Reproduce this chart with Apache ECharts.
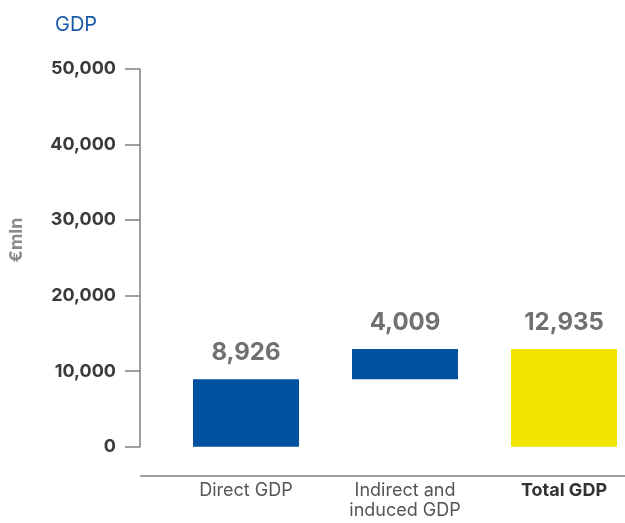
<!DOCTYPE html>
<html>
<head>
<meta charset="utf-8">
<script src="https://cdn.jsdelivr.net/npm/echarts@6/dist/echarts.min.js"></script>
<style>html,body{margin:0;padding:0;background:#fff}#c{width:625px;height:523px}</style>
</head>
<body>
<div id="c"></div>
<script>
var categories = ['Direct GDP', 'Indirect and\ninduced GDP', 'Total GDP'];
var baseValues = [0, 8926, 0];
var barValues = [8926, 4009, 12935];
var barColors = ['#0052A0', '#0052A0', '#F2E500'];
var yTicks = [0, 10000, 20000, 30000, 40000, 50000];

var FONT = 'Inter, "Liberation Sans", Arial, sans-serif';
function fmt(v) { return String(v).replace(/\B(?=(\d{3})+(?!\d))/g, ','); }

var chart = echarts.init(document.getElementById('c'), null, {renderer: 'canvas'});
chart.setOption({
  animation: false,
  backgroundColor: '#fff',
  title: {
    text: 'GDP', left: 50, top: 10,
    textStyle: {color: '#1a5aa6', fontSize: 20, fontWeight: 'normal', fontFamily: FONT}
  },
  grid: {left: 166.5, width: 477, top: 69, height: 377.7, containLabel: false, outerBoundsMode: 'none'},
  xAxis: {
    type: 'category', data: categories,
    axisLine: {show: false}, axisTick: {show: false},
    axisLabel: {
      margin: 34, interval: 0, color: '#555', fontSize: 18, lineHeight: 20, fontFamily: FONT,
      formatter: function (v, i) { return i === 2 ? '{b|' + v + '}' : v; },
      rich: {b: {fontWeight: 'bold', color: '#333', fontSize: 18, fontFamily: FONT}}
    }
  },
  yAxis: {
    type: 'value', min: yTicks[0], max: yTicks[yTicks.length - 1], interval: 10000,
    offset: 26.5,
    axisLine: {show: true, lineStyle: {color: '#808080', width: 1.5}},
    axisTick: {show: true, length: 15, lineStyle: {color: '#808080', width: 1.5}},
    splitLine: {show: false},
    axisLabel: {
      margin: 24, color: '#3a3a3a', fontSize: 18, fontWeight: 'bold', fontFamily: FONT,
      formatter: function (v) { return fmt(v); }
    }
  },
  graphic: [
    {type: 'line', shape: {x1: 140, y1: 476, x2: 625, y2: 476}, style: {stroke: '#808080', lineWidth: 1.5}},
    {type: 'text', x: 17, y: 240, rotation: Math.PI / 2,
     style: {text: '€mln', fill: '#8a8a8a', font: 'bold 18px ' + FONT, textAlign: 'center', textVerticalAlign: 'middle'}}
  ],
  series: [
    {type: 'bar', stack: 'w', data: baseValues, barWidth: 106, itemStyle: {color: 'transparent'}, silent: true},
    {type: 'bar', stack: 'w', barWidth: 106,
     data: barValues.map(function (v, i) { return {value: v, itemStyle: {color: barColors[i]}}; }),
     label: {show: true, position: 'top', distance: 14, color: '#707070', fontSize: 24, fontWeight: 'bold', fontFamily: FONT,
       formatter: function (p) { return fmt(p.value); }}
    }
  ]
});
</script>
</body>
</html>
